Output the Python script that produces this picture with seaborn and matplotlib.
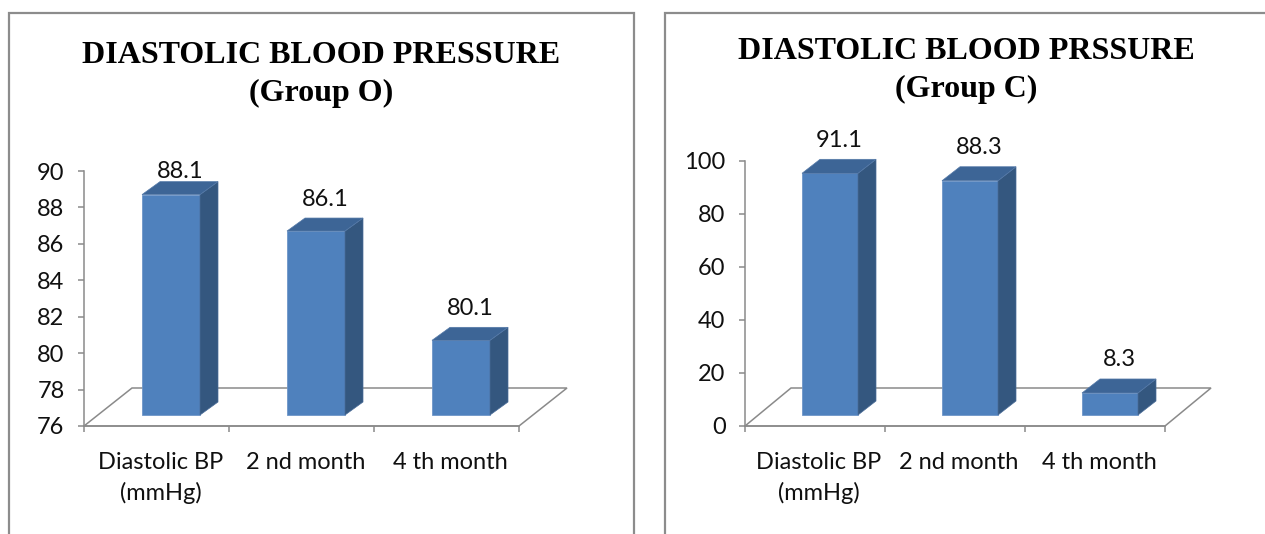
import matplotlib
matplotlib.use("Agg")
import matplotlib.pyplot as plt
import pandas as pd
import seaborn as sns
from matplotlib.lines import Line2D
from matplotlib.patches import Polygon
from matplotlib.transforms import ScaledTranslation

# ---- data -------------------------------------------------------------
categories = ["Diastolic BP\n(mmHg)", "2 nd month", "4 th month"]
group_o_values = [88.1, 86.1, 80.1]
group_c_values = [91.1, 88.3, 8.3]
group_o_ticks = [76, 78, 80, 82, 84, 86, 88, 90]
group_c_ticks = [0, 20, 40, 60, 80, 100]
group_o_title = ["DIASTOLIC BLOOD PRESSURE", "(Group O)"]
group_c_title = ["DIASTOLIC BLOOD PRSSURE", "(Group C)"]

# ---- style ------------------------------------------------------------
sns.set_theme(style="white")
plt.rcParams["font.family"] = ["Lato", "DejaVu Sans"]

FRONT = "#4F81BD"
SIDE = "#34577F"
TOP = "#3D6596"
AXIS = "#8A8A8A"
FRAME = "#8C8C8C"
TEXT = "#101010"
FONT_SIZE = 17
DPI = 100
W, H = 1265, 534

fig = plt.figure(figsize=(W / DPI, H / DPI), dpi=DPI)
fig.patch.set_facecolor("white")


def shift(dx, dy):
    """Translation given in pixels (x right, y up)."""
    return ScaledTranslation(dx / DPI, dy / DPI, fig.dpi_scale_trans)


def column_panel(rect, values, ticks, bar_shift, bar_depth, floor_depth,
                 label_gap, label_ceiling):
    ax = fig.add_axes(rect)
    df = pd.DataFrame({"period": categories, "value": values})
    sns.barplot(data=df, x="period", y="value", ax=ax, width=0.4,
                color=FRONT, saturation=1, edgecolor="#6E96C8",
                linewidth=0.6, zorder=3)
    lo, hi = ticks[0], ticks[-1]
    n = len(values)
    ax.set_ylim(lo, hi)
    ax.set_xlim(-0.5, n - 0.5)
    ax.set_xlabel("")
    ax.set_ylabel("")

    to_data = ax.transData.inverted()
    plane = ax.transData + shift(*bar_shift)
    ddx, ddy = bar_depth

    # floor of the 3-D plot area
    fl = ax.transData.transform([(-0.5, lo), (n - 0.5, lo)])
    fx, fy = floor_depth
    floor_pts = [fl[0], fl[1], (fl[1][0] + fx, fl[1][1] + fy),
                 (fl[0][0] + fx, fl[0][1] + fy)]
    ax.add_patch(Polygon(to_data.transform(floor_pts), closed=True,
                         fill=False, edgecolor=AXIS, linewidth=1.1,
                         zorder=1, clip_on=False))

    for p, v in zip(ax.patches[:n], values):
        p.set_y(lo)
        p.set_height(v - lo)
        p.set_transform(plane)
        p.set_clip_on(False)
        x0 = p.get_x()
        x1 = x0 + p.get_width()
        a, b, c = plane.transform([(x1, lo), (x1, v), (x0, v)])
        side = [a, b, (b[0] + ddx, b[1] + ddy), (a[0] + ddx, a[1] + ddy)]
        top = [c, b, (b[0] + ddx, b[1] + ddy), (c[0] + ddx, c[1] + ddy)]
        ax.add_patch(Polygon(to_data.transform(side), closed=True,
                             facecolor=SIDE, edgecolor="#4A6C98",
                             linewidth=0.5, zorder=3, clip_on=False))
        ax.add_patch(Polygon(to_data.transform(top), closed=True,
                             facecolor=TOP, edgecolor="#5479A8",
                             linewidth=0.5, zorder=3, clip_on=False))
        # value label centred over the whole column
        cx = (c[0] + b[0] + ddx) / 2
        cy = b[1] + ddy + label_gap
        lx, ly = to_data.transform((cx, cy))
        if label_ceiling is not None:
            ly = min(ly, label_ceiling)
        ax.text(lx, ly, f"{v}", ha="center", va="center",
                fontsize=FONT_SIZE, color=TEXT, clip_on=False, zorder=5)

    for s in ("top", "right"):
        ax.spines[s].set_visible(False)
    for s in ("left", "bottom"):
        ax.spines[s].set_color(AXIS)
        ax.spines[s].set_linewidth(1.1)

    ax.set_yticks(ticks)
    ax.set_yticklabels([str(t) for t in ticks])
    ax.tick_params(axis="y", left=True, length=4, width=1.1, color=AXIS,
                   pad=10, labelsize=FONT_SIZE, labelcolor=TEXT)
    ax.set_xticks(range(n))
    ax.set_xticks([i - 0.5 for i in range(n + 1)], minor=True)
    ax.set_xticklabels(categories, linespacing=1.45)
    ax.tick_params(axis="x", which="major", bottom=False, length=0,
                   pad=19, labelsize=FONT_SIZE, labelcolor=TEXT)
    ax.tick_params(axis="x", which="minor", bottom=True, length=4.5,
                   width=1.1, color=AXIS)
    for lbl in ax.get_xticklabels():
        lbl.set_transform(lbl.get_transform() + shift(4, 0))
    ax.grid(False)
    ax.set_facecolor("none")
    return ax


column_panel([84 / W, 1 - 426 / H, 435 / W, 255 / H], group_o_values,
             group_o_ticks, bar_shift=(14.5, 11), bar_depth=(18, 13),
             floor_depth=(48, 38), label_gap=19, label_ceiling=90)
column_panel([745 / W, 1 - 426 / H, 420 / W, 265.3 / H], group_c_values,
             group_c_ticks, bar_shift=(15, 11), bar_depth=(18, 14),
             floor_depth=(46, 38), label_gap=19, label_ceiling=None)

# titles
title_font = dict(family="Liberation Serif", weight="bold", size=23,
                  color="black", ha="center", va="baseline")
for cx, base, lines in ((321.5, 63, group_o_title),
                        (966, 59, group_c_title)):
    for i, line in enumerate(lines):
        fig.text(cx / W, 1 - (base + 38 * i) / H, line, **title_font)

# chart frames (open at the bottom edge of the image)
for left, right in ((9, 634), (665, 1267)):
    fig.add_artist(Line2D([left / W, left / W, right / W, right / W],
                          [-0.05, 1 - 13 / H, 1 - 13 / H, -0.05],
                          transform=fig.transFigure, color=FRAME,
                          linewidth=1.6, solid_joinstyle="miter"))

fig.savefig("out.png", dpi=DPI, facecolor="white")
